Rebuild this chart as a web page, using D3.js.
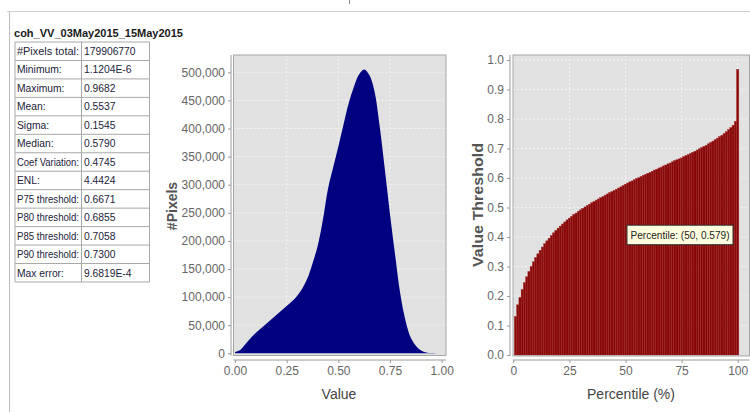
<!DOCTYPE html>
<html><head><meta charset="utf-8">
<script src="https://cdn.jsdelivr.net/npm/d3@7"></script>
<style>
body{margin:0;background:#fff;}
svg{display:block;font-family:"Liberation Sans",Arial,sans-serif;}
</style></head>
<body><svg id="c" width="750" height="412"></svg>
<script>
// ---------- data ----------
const bandName = "coh_VV_03May2015_15May2015";
const statLabels = ["#Pixels total:","Minimum:","Maximum:","Mean:","Sigma:","Median:","Coef Variation:","ENL:","P75 threshold:","P80 threshold:","P85 threshold:","P90 threshold:","Max error:"];
const statValues = ["179906770","1.1204E-6","0.9682","0.5537","0.1545","0.5790","0.4745","4.4424","0.6671","0.6855","0.7058","0.7300","9.6819E-4"];

const histX = [0,0.025,0.05,0.075,0.1,0.125,0.15,0.175,0.2,0.225,0.25,0.275,0.3,0.325,0.35,0.375,0.4,0.425,0.45,0.475,0.5,0.525,0.55,0.575,0.6,0.625,0.65,0.675,0.7,0.725,0.75,0.775,0.8,0.825,0.85,0.875,0.9,0.925,0.95,0.975,1.0];
const histCount = [2500,6000,16000,27000,36000,44000,52000,60000,68000,76000,84000,92000,102000,115000,133000,160000,191000,237000,293000,331000,368000,407000,445000,474000,496000,505000,495000,466000,404000,327000,247000,174000,105000,58000,28000,13500,5000,1500,400,100,0];

const pctX = d3.range(1,101);
const pctValue = [0.130,0.170,0.195,0.222,0.245,0.265,0.283,0.300,0.316,0.330,
0.343,0.355,0.366,0.377,0.387,0.396,0.405,0.414,0.422,0.430,
0.437,0.444,0.451,0.458,0.464,0.470,0.476,0.481,0.487,0.492,
0.497,0.502,0.507,0.511,0.516,0.520,0.525,0.529,0.533,0.537,
0.542,0.546,0.550,0.554,0.558,0.562,0.566,0.570,0.575,0.579,
0.583,0.587,0.590,0.594,0.598,0.601,0.605,0.609,0.612,0.616,
0.619,0.623,0.627,0.630,0.634,0.637,0.641,0.644,0.648,0.651,
0.655,0.659,0.662,0.665,0.668,0.672,0.676,0.679,0.683,0.687,
0.691,0.695,0.699,0.703,0.707,0.711,0.716,0.720,0.725,0.730,
0.735,0.740,0.745,0.751,0.757,0.764,0.771,0.779,0.792,0.968];

const histYTicks = [0,50000,100000,150000,200000,250000,300000,350000,400000,450000,500000];
const histXTicks = [0,0.25,0.5,0.75,1.0];
const pctYTicks = [0,0.1,0.2,0.3,0.4,0.5,0.6,0.7,0.8,0.9,1.0];
const pctXTicks = [0,25,50,75,100];
const tooltipPoint = {p:50, v:0.579};

// ---------- drawing ----------
const svg = d3.select("#c");
const plotBg = "#e1e1e1", gridCol = "#f4f4f4", axisCol = "#9a9a9a", tickTxt = "#666", titleTxt = "#444";
const FF = "Liberation Sans, Arial, sans-serif";

// outer frame
svg.append("line").attr("x1",7).attr("x2",750).attr("y1",11.5).attr("y2",11.5).attr("stroke","#d0d0d0");
svg.append("line").attr("x1",9.5).attr("x2",9.5).attr("y1",11.5).attr("y2",412).attr("stroke","#bdbdbd");
svg.append("line").attr("x1",349.5).attr("x2",349.5).attr("y1",0).attr("y2",4).attr("stroke","#888");

// title
svg.append("text").attr("x",14).attr("y",36.5).attr("font-weight","bold").attr("font-size",11.5)
  .attr("textLength",169).attr("lengthAdjust","spacingAndGlyphs")
  .attr("fill","#1a1a1a").text(bandName);

// table
const t0 = 42, rh = 18.46, tl = 15, tm = 81.5, tr = 149.5;
const tg = svg.append("g");
statLabels.forEach((lab,i)=>{
  const y = t0 + i*rh;
  const lt = tg.append("text").attr("x",tl+2).attr("y",y+rh/2+3.8).attr("font-size",10.3).attr("fill","#23233a").text(lab);
  if (lab.length > 13) lt.attr("textLength",62).attr("lengthAdjust","spacingAndGlyphs");
  tg.append("text").attr("x",tm+2.5).attr("y",y+rh/2+3.8).attr("font-size",10.3).attr("fill","#23233a").text(statValues[i]);
});
for(let i=0;i<=statLabels.length;i++){
  tg.append("line").attr("x1",tl).attr("x2",tr).attr("y1",t0+i*rh).attr("y2",t0+i*rh).attr("stroke","#a8a8a8");
}
[tl,tm,tr].forEach(x=>tg.append("line").attr("x1",x).attr("x2",x).attr("y1",t0).attr("y2",t0+statLabels.length*rh).attr("stroke","#a8a8a8"));

function dashGrid(g, x1,x2,y1,y2){
  g.append("line").attr("x1",x1).attr("x2",x2).attr("y1",y1).attr("y2",y2)
   .attr("stroke",gridCol).attr("stroke-width",1).attr("stroke-dasharray","2,2");
}
function styleAxis(a){
  a.selectAll(".tick line").attr("stroke",axisCol);
  a.selectAll("text").attr("font-size",12).attr("fill",tickTxt).attr("font-family",FF);
}

// ---------- histogram ----------
{
  const pl=233.5, pr=446, pt=55, pb=355.5;
  const x = d3.scaleLinear().domain([0,1]).range([235,441.7]);
  const y = d3.scaleLinear().domain([0,500000]).range([353.3,72.3]);
  const g = svg.append("g");
  g.append("rect").attr("x",pl).attr("y",pt).attr("width",pr-pl).attr("height",pb-pt).attr("fill",plotBg);
  histYTicks.slice(1).forEach(v=>dashGrid(g,pl,pr,y(v),y(v)));
  histXTicks.slice(1,4).forEach(v=>dashGrid(g,x(v),x(v),pt,pb));
  const area = d3.area().x((d,i)=>x(histX[i])).y0(y(0)).y1((d,i)=>y(d)).curve(d3.curveCatmullRom.alpha(0.5));
  g.append("path").datum(histCount).attr("d",area).attr("fill","#000080");
  g.append("rect").attr("x",pl).attr("y",pt).attr("width",pr-pl).attr("height",pb-pt).attr("fill","none").attr("stroke","#a5a5a5");
  const ya = g.append("g").attr("transform","translate(231,0)")
    .call(d3.axisLeft(y).tickValues(histYTicks).tickFormat(d3.format(",")).tickSize(3).tickPadding(3));
  ya.select(".domain").attr("d",`M0,${pt}V${pb}`).attr("stroke",axisCol);
  styleAxis(ya);
  const xa = g.append("g").attr("transform","translate(0,360)")
    .call(d3.axisBottom(x).tickValues(histXTicks).tickFormat(d3.format(".2f")).tickSize(3).tickPadding(3));
  xa.select(".domain").attr("d",`M${pl},0H${pr}`).attr("stroke",axisCol);
  styleAxis(xa);
  g.append("text").attr("x",339).attr("y",399).attr("text-anchor","middle").attr("font-size",14).attr("fill",titleTxt).text("Value");
  g.append("text").attr("transform","translate(177,206) rotate(-90)").attr("text-anchor","middle").attr("font-size",14)
    .attr("font-weight","bold").attr("fill","#555").text("#Pixels");
}

// ---------- percentile ----------
{
  const pl=513, pr=749.5, pt=55, pb=356;
  const x = d3.scaleLinear().domain([0,100]).range([513.3,737.7]);
  const y = d3.scaleLinear().domain([0,1]).range([355,60]);
  const g = svg.append("g");
  g.append("rect").attr("x",pl).attr("y",pt).attr("width",pr-pl).attr("height",pb-pt).attr("fill",plotBg);
  pctYTicks.slice(1).forEach(v=>dashGrid(g,pl,pr,y(v),y(v)));
  pctXTicks.slice(1).forEach(v=>dashGrid(g,x(v),x(v),pt,pb));
  const bw = x(1)-x(0);
  g.selectAll("rect.bar").data(pctValue).enter().append("rect").attr("class","bar")
    .attr("x",(d,i)=>x(pctX[i])-bw/2).attr("width",bw)
    .attr("y",d=>y(d)).attr("height",d=>y(0)-y(d))
    .attr("fill","#860808").attr("stroke","#a52626").attr("stroke-width",0.45);
  g.append("rect").attr("x",pl).attr("y",pt).attr("width",pr-pl).attr("height",pb-pt).attr("fill","none").attr("stroke","#a5a5a5");
  const ya = g.append("g").attr("transform","translate(510,0)")
    .call(d3.axisLeft(y).tickValues(pctYTicks).tickFormat(d3.format(".1f")).tickSize(3).tickPadding(3));
  ya.select(".domain").attr("d",`M0,${pt}V${pb}`).attr("stroke",axisCol);
  styleAxis(ya);
  const xa = g.append("g").attr("transform","translate(0,360)")
    .call(d3.axisBottom(x).tickValues(pctXTicks).tickFormat(d3.format("d")).tickSize(3).tickPadding(3));
  xa.select(".domain").attr("d",`M${pl},0H${pr}`).attr("stroke",axisCol);
  styleAxis(xa);
  g.append("text").attr("x",631).attr("y",399).attr("text-anchor","middle").attr("font-size",14).attr("fill",titleTxt).text("Percentile (%)");
  g.append("text").attr("transform","translate(483,205) rotate(-90)").attr("text-anchor","middle").attr("font-size",14.5)
    .attr("font-weight","bold").attr("fill","#555").attr("textLength",124).attr("lengthAdjust","spacingAndGlyphs").text("Value Threshold");
  // tooltip
  const tx = x(tooltipPoint.p)+1.5, ty = y(tooltipPoint.v)+41;
  g.append("rect").attr("x",tx).attr("y",ty).attr("width",106).attr("height",19.5)
    .attr("fill","#ffffe0").attr("stroke","#333").attr("stroke-width",1);
  g.append("text").attr("x",tx+3.5).attr("y",ty+14).attr("font-size",10.8).attr("fill","#222")
    .attr("textLength",99).attr("lengthAdjust","spacingAndGlyphs")
    .text(`Percentile: (${tooltipPoint.p}, ${tooltipPoint.v})`);
}
</script></body></html>
